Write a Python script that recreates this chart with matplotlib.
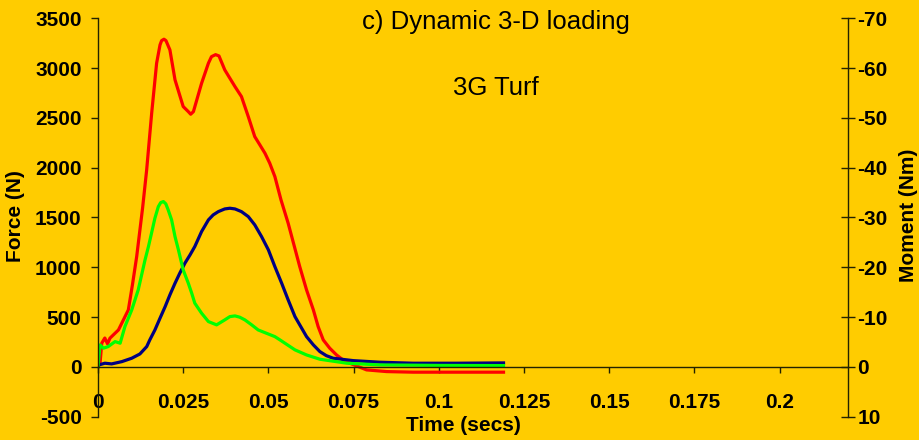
import matplotlib
matplotlib.use("Agg")
import matplotlib.pyplot as plt

plt.rcParams['font.family'] = ['Liberation Sans', 'DejaVu Sans']

# ---- data ----
red_t = [0, 0.0006, 0.0011, 0.002, 0.0028, 0.0035, 0.006, 0.0089, 0.0101, 0.01135, 0.0131,
         0.01428, 0.01575, 0.0172, 0.0182, 0.01867, 0.01936, 0.01994, 0.0211, 0.0226,
         0.025, 0.0265, 0.0272, 0.028, 0.0304, 0.0324, 0.0333, 0.0345, 0.0355, 0.0372,
         0.0387, 0.0402, 0.0421, 0.0441, 0.0460, 0.0475, 0.049, 0.0504, 0.0519, 0.0537,
         0.0558, 0.0592, 0.0612, 0.0632, 0.0646, 0.0661, 0.068, 0.070, 0.0719,
         0.0739, 0.0788, 0.0847, 0.0925, 0.105, 0.119]
red_f = [0, 37, 238, 290, 231, 288, 371, 572, 823, 1107, 1600,
         1978, 2547, 3049, 3233, 3276, 3290, 3276, 3183, 2882,
         2614, 2563, 2537, 2563, 2848, 3049, 3115, 3135, 3122, 2982,
         2898, 2814, 2714, 2513, 2312, 2229, 2145, 2045, 1911, 1677,
         1443, 1007, 773, 572, 405, 271, 188, 120, 70,
         37, -30, -47, -53, -53, -53]

blue_t = [0, 0.0003, 0.002, 0.004, 0.007, 0.0099, 0.0123, 0.0143, 0.0152, 0.0167, 0.0182,
          0.0197, 0.0211, 0.0226, 0.024, 0.0255, 0.027, 0.0284, 0.0304, 0.0324, 0.0338,
          0.0353, 0.0372, 0.0387, 0.0402, 0.0421, 0.0441, 0.0460, 0.048, 0.05, 0.0519,
          0.0539, 0.0558, 0.0578, 0.0612, 0.0632, 0.0651, 0.067, 0.069, 0.0749, 0.0827,
          0.0925, 0.105, 0.119]
blue_f = [0, 20, 37, 30, 53, 87, 130, 204, 271, 371, 489,
          605, 723, 840, 941, 1041, 1124, 1208, 1359, 1476, 1526,
          1559, 1586, 1593, 1586, 1559, 1509, 1426, 1308, 1175, 1007,
          840, 673, 505, 304, 221, 154, 113, 87, 63, 47,
          37, 37, 40]

green_t = [0, 0.0006, 0.0016, 0.003, 0.005, 0.0065, 0.0079, 0.0099, 0.0118, 0.0138,
           0.0148, 0.0157, 0.0167, 0.0177, 0.0184, 0.0192, 0.0199, 0.0206, 0.0216,
           0.0226, 0.0236, 0.025, 0.0265, 0.0275, 0.0284, 0.0304, 0.0324, 0.0348,
           0.0372, 0.0387, 0.0402, 0.0416, 0.0431, 0.0451, 0.047, 0.0519, 0.0534,
           0.0578, 0.0612, 0.0651, 0.073, 0.0827, 0.1, 0.119]
green_f = [0, 221, 188, 204, 254, 238, 405, 572, 773, 1074,
           1208, 1342, 1493, 1609, 1650, 1660, 1637, 1576, 1476,
           1308, 1175, 974, 840, 740, 640, 539, 455, 422,
           472, 505, 512, 499, 472, 422, 371, 304, 271,
           171, 120, 77, 37, 20, 15, 13]

x_ticks = [0, 0.025, 0.05, 0.075, 0.1, 0.125, 0.15, 0.175, 0.2]
x_labels = ["0", "0.025", "0.05", "0.075", "0.1", "0.125", "0.15", "0.175", "0.2"]
f_ticks = [-500, 0, 500, 1000, 1500, 2000, 2500, 3000, 3500]
f_labels = ["-500", "0", "500", "1000", "1500", "2000", "2500", "3000", "3500"]
m_ticks = [10, 0, -10, -20, -30, -40, -50, -60, -70]
m_labels = ["10", "0", "-10", "-20", "-30", "-40", "-50", "-60", "-70"]

title = "c) Dynamic 3-D loading"
subtitle = "3G Turf"

BG = '#FFCC00'
W, H = 920, 440

fig = plt.figure(figsize=(W / 100, H / 100), dpi=100, facecolor=BG)
ax = fig.add_axes([98 / W, 1 - 416.7 / H, (847.7 - 98) / W, (416.7 - 18.3) / H])
ax.set_facecolor(BG)

ax.plot(red_t, red_f, color='#FF0000', lw=2.3, solid_joinstyle='round')
ax.plot(blue_t, blue_f, color='#000080', lw=2.3, solid_joinstyle='round')
ax.plot(green_t, green_f, color='#00FF00', lw=2.3, solid_joinstyle='round')

ax.set_xlim(0, 0.22)
ax.set_ylim(-500, 3500)

for s in ['top', 'right']:
    ax.spines[s].set_visible(False)
ax.spines['bottom'].set_position(('data', 0))
for s in ['left', 'bottom']:
    ax.spines[s].set_color('#222200')
    ax.spines[s].set_linewidth(1.0)

tick_font = dict(fontsize=15, fontweight='bold')
ax.set_xticks(x_ticks)
ax.set_xticklabels(x_labels, **tick_font)
ax.set_yticks(f_ticks)
ax.set_yticklabels(f_labels, **tick_font)
ax.tick_params(axis='x', direction='out', length=4, width=1, color='#222200', pad=14.5)
ax.tick_params(axis='y', direction='out', length=4.7, width=1, color='#222200', pad=7)

ax2 = ax.twinx()
ax2.set_ylim(10, -70)
for s in ['top', 'left', 'bottom']:
    ax2.spines[s].set_visible(False)
ax2.spines['right'].set_color('#222200')
ax2.spines['right'].set_linewidth(1.0)
ax2.set_yticks(m_ticks)
ax2.set_yticklabels(m_labels, **tick_font)
ax2.tick_params(axis='y', direction='inout', length=10, width=1, color='#222200', pad=2)

fig.text(496 / W, 1 - 29 / H, title, ha='center', va='baseline', fontsize=18.5)
fig.text(496 / W, 1 - 95 / H, subtitle, ha='center', va='baseline', fontsize=18.5)
fig.text(463 / W, 1 - 425 / H, "Time (secs)", ha='center', va='center',
         fontsize=15, fontweight='bold')
fig.text(16 / W, 1 - 216 / H, "Force (N)", ha='center', va='center', rotation=90,
         fontsize=15, fontweight='bold')
fig.text(909 / W, 1 - 215 / H, "Moment (Nm)", ha='center', va='center', rotation=90,
         fontsize=15, fontweight='bold')

fig.savefig('out.png', dpi=100, facecolor=BG)
